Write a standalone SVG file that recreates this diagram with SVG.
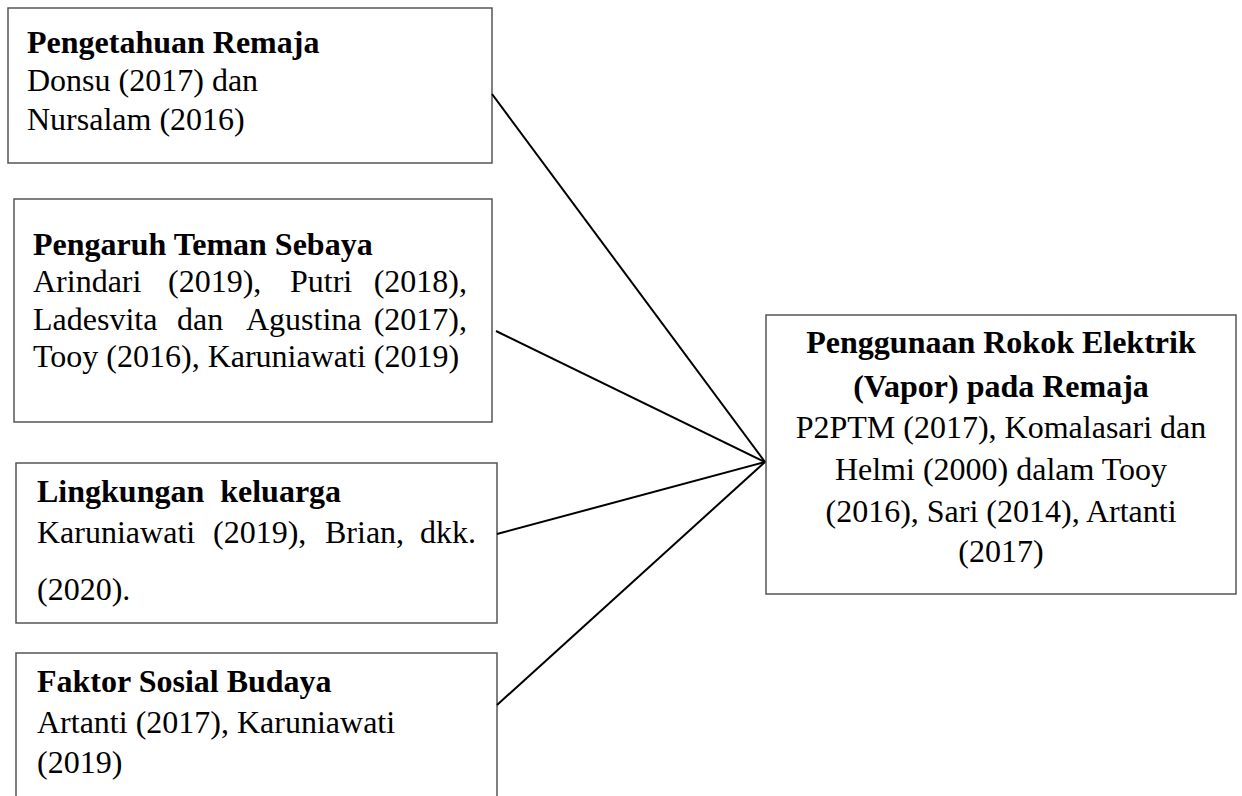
<svg xmlns="http://www.w3.org/2000/svg" width="1242" height="796" viewBox="0 0 1242 796">
<style>
.box{fill:#fff;stroke:#555;stroke-width:1.5}
text{font-family:"Liberation Serif","Times New Roman",serif;font-size:32px;fill:#000}
.b{font-weight:bold}
.c{text-anchor:middle}
.e{text-anchor:end}
.ln{stroke:#000;stroke-width:2;fill:none}
</style>
<rect width="1242" height="796" fill="#fff"/>
<g id="node1">
<rect class="box" x="8" y="8" width="484" height="155"/>
<text class="b" x="27" y="53">Pengetahuan Remaja</text>
<text x="27" y="91">Donsu (2017) dan</text>
<text x="27" y="130">Nursalam (2016)</text>
</g>
<g id="node2">
<rect class="box" x="14" y="199" width="478" height="223"/>
<text class="b" x="33" y="255">Pengaruh Teman Sebaya</text>
<text x="33" y="292">Arindari</text>
<text x="168" y="292">(2019),</text>
<text x="290" y="292">Putri</text>
<text class="e" x="467" y="292">(2018),</text>
<text x="33" y="330">Ladesvita</text>
<text x="177" y="330">dan</text>
<text x="246" y="330">Agustina</text>
<text class="e" x="467" y="330">(2017),</text>
<text x="33" y="367">Tooy (2016), Karuniawati (2019)</text>
</g>
<g id="node3">
<rect class="box" x="16" y="463" width="481" height="160"/>
<text class="b" x="37" y="502" xml:space="preserve">Lingkungan  keluarga</text>
<text x="37" y="543">Karuniawati</text>
<text x="213" y="543">(2019),</text>
<text x="325" y="543">Brian,</text>
<text class="e" x="476" y="543">dkk.</text>
<text x="37" y="600">(2020).</text>
</g>
<g id="node4">
<rect class="box" x="16" y="653" width="481" height="160"/>
<text class="b" x="37" y="692">Faktor Sosial Budaya</text>
<text x="37" y="733">Artanti (2017), Karuniawati</text>
<text x="37" y="773">(2019)</text>
</g>
<g id="node5">
<rect class="box" x="766" y="315" width="470" height="279"/>
<text class="b c" x="1001" y="353">Penggunaan Rokok Elektrik</text>
<text class="b c" x="1001" y="397">(Vapor) pada Remaja</text>
<text class="c" x="1001" y="438">P2PTM (2017), Komalasari dan</text>
<text class="c" x="1001" y="480">Helmi (2000) dalam Tooy</text>
<text class="c" x="1001" y="522">(2016), Sari (2014), Artanti</text>
<text class="c" x="1001" y="562">(2017)</text>
</g>
<g id="connectors">
<line class="ln" x1="492" y1="94" x2="765" y2="462"/>
<line class="ln" x1="496" y1="331" x2="765" y2="462"/>
<line class="ln" x1="497" y1="534" x2="765" y2="462"/>
<line class="ln" x1="497" y1="705" x2="765" y2="462"/>
</g>
</svg>
